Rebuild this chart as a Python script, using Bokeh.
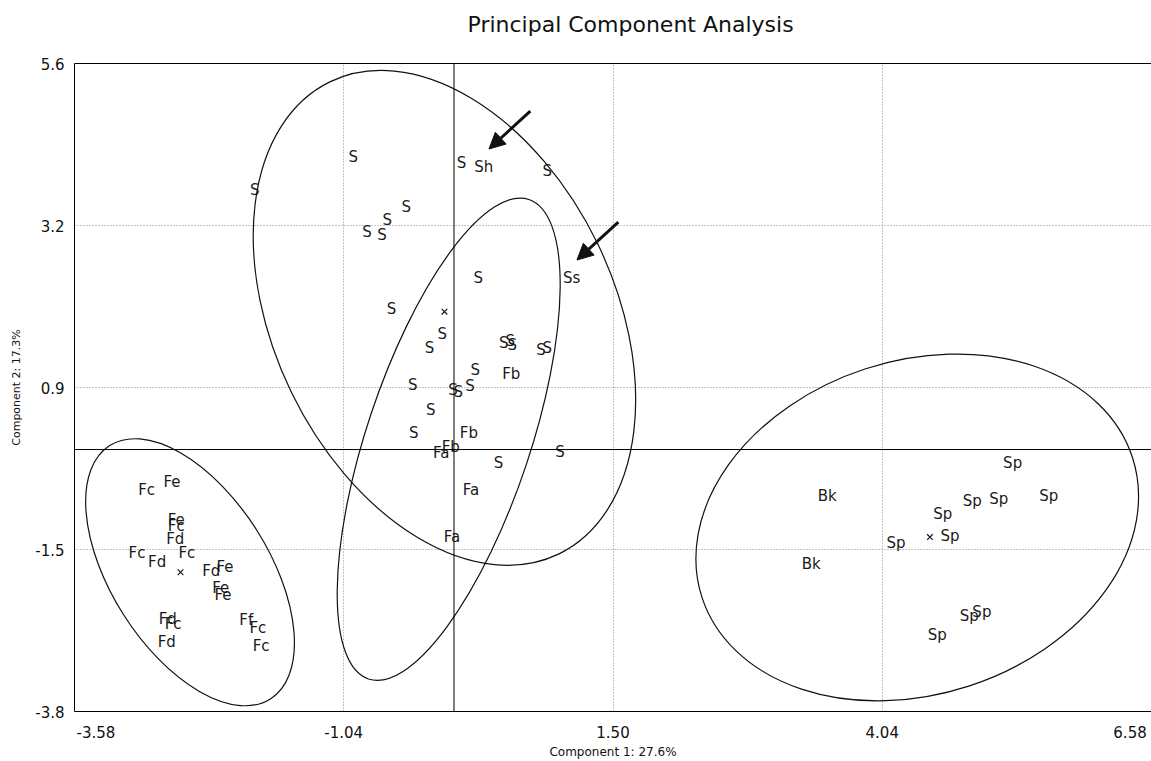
import math
from bokeh.plotting import figure
from bokeh.models import (Range1d, FixedTicker, Span, Arrow, NormalHead, ColumnDataSource,
                          LinearAxis)
from bokeh.core.properties import value
from bokeh.embed import file_html
from bokeh.resources import INLINE

# ---------------- data ----------------
title_text = "Principal Component Analysis"
x_title = "Component 1: 27.6%"
y_title = "Component 2: 17.3%"

x_ticks = [-3.58, -1.04, 1.50, 4.04, 6.58]
x_tick_labels = ["-3.58", "-1.04", "1.50", "4.04", "6.58"]
y_ticks = [-3.8, -1.45, 0.9, 3.25, 5.6]
y_tick_labels = ["-3.8", "-1.5", "0.9", "3.2", "5.6"]

left_labels = ["Fc", "Fe", "Fe", "Fc", "Fd", "Fc", "Fd", "Fc", "Fd", "Fe",
               "Fe", "Fe", "Fd", "Fc", "Fd", "Ff", "Fc", "Fc"]
left_pc1 = [-2.90, -2.66, -2.62, -2.62, -2.63, -2.99, -2.80, -2.52, -2.29, -2.16,
            -2.20, -2.18, -2.70, -2.65, -2.71, -1.96, -1.85, -1.82]
left_pc2 = [-0.59, -0.47, -1.02, -1.11, -1.30, -1.50, -1.63, -1.50, -1.76, -1.70,
            -2.01, -2.11, -2.46, -2.53, -2.79, -2.47, -2.59, -2.85]

mid_labels = ["S", "S", "S", "Sh", "S", "S", "S", "S", "S", "S", "Ss", "S", "S", "S",
              "S", "S", "S", "S", "S", "S", "Fb", "S", "S", "S", "S", "S", "S",
              "Fb", "Fb", "Fa", "S", "S", "Fa", "Fa"]
mid_pc1 = [-0.95, -1.88, 0.07, 0.28, 0.88, -0.45, -0.63, -0.82, -0.68, 0.23, 1.11, -0.59, -0.11,
           -0.23, 0.47, 0.53, 0.55, 0.82, 0.88, 0.20, 0.54, -0.39, -0.01, 0.04, 0.15, -0.22, -0.38,
           0.14, -0.03, -0.12, 1.00, 0.42, 0.16, -0.02]
mid_pc2 = [4.24, 3.76, 4.15, 4.10, 4.04, 3.52, 3.33, 3.16, 3.11, 2.49, 2.49, 2.04, 1.68,
           1.48, 1.54, 1.57, 1.52, 1.44, 1.48, 1.16, 1.10, 0.94, 0.87, 0.84, 0.92, 0.58, 0.24,
           0.24, 0.03, -0.05, -0.03, -0.20, -0.59, -1.27]

right_labels = ["Sp", "Bk", "Sp", "Sp", "Sp", "Sp", "Sp", "Sp", "Bk", "Sp", "Sp", "Sp"]
right_pc1 = [5.27, 3.52, 4.89, 5.14, 5.61, 4.61, 4.68, 4.17, 3.37, 4.98, 4.86, 4.56]
right_pc2 = [-0.20, -0.68, -0.75, -0.72, -0.68, -0.94, -1.26, -1.36, -1.66, -2.35, -2.41, -2.69]

centroid_pc1 = [-2.58, -0.09, 4.49]
centroid_pc2 = [-1.78, 2.00, -1.27]

ell_x = [-2.49, -0.09, -0.05, 4.37]
ell_y = [-1.78, 1.91, 0.15, -1.13]
ell_w = [2.83, 4.95, 4.77, 4.27]
ell_h = [2.29, 4.94, 2.37, 4.84]
ell_angle_deg = [-57.6, -64.1, 71.5, 18.0]

arrow_targets = ["Sh", "Ss"]

# ---------------- figure ----------------
FONT = "DejaVu Sans"
p = figure(width=1151, height=761, output_backend="svg", toolbar_location=None,
           x_range=Range1d(-3.58, 6.58), y_range=Range1d(-3.8, 5.6),
           min_border_left=74, min_border_right=0, min_border_top=63, min_border_bottom=48)
p.outline_line_color = None

xax = p.below[0]
yax = p.left[0]

# top border drawn by an unlabeled axis that also spaces the title upward
top_axis = LinearAxis(ticker=FixedTicker(ticks=[]), axis_label=" ",
                      axis_label_text_font_size="10px", axis_label_standoff=8,
                      major_label_standoff=0, major_tick_out=0, major_tick_in=0,
                      minor_tick_out=0, minor_tick_in=0, axis_line_color="black")
p.add_layout(top_axis, "above")

p.title.text = title_text
p.title.align = "left"
p.title.offset = 393
p.title.text_font = FONT
p.title.text_font_size = "22px"
p.title.text_font_style = "normal"
p.title.text_color = "#111111"
p.title.standoff = 10

for ax in (xax, yax):
    ax.major_tick_out = 0
    ax.major_tick_in = 0
    ax.minor_tick_out = 0
    ax.minor_tick_in = 0
    ax.axis_line_color = "black"
    ax.major_label_text_font = FONT
    ax.major_label_text_font_size = "15px"
    ax.major_label_text_color = "#111111"
    ax.axis_label_text_font = FONT
    ax.axis_label_text_font_style = "normal"
    ax.axis_label_text_color = "#111111"

# end labels are kept inside the frame edges (as in the original) by padding
NB = "\u00a0"
x_label_shown = list(x_tick_labels)
x_label_shown[0] = NB * 9 + x_label_shown[0]
x_label_shown[-1] = x_label_shown[-1] + NB

xax.ticker = FixedTicker(ticks=x_ticks)
xax.major_label_overrides = dict(zip(x_ticks, x_label_shown))
xax.axis_label = x_title
xax.axis_label_text_font_size = "12px"
xax.major_label_standoff = 12
xax.axis_label_standoff = 0

yax.ticker = FixedTicker(ticks=y_ticks)
yax.major_label_overrides = dict(zip(y_ticks, y_tick_labels))
yax.axis_label = y_title
yax.axis_label_text_font_size = "11px"
yax.major_label_standoff = 10
yax.axis_label_standoff = 9

p.xgrid.ticker = FixedTicker(ticks=x_ticks)
p.ygrid.ticker = FixedTicker(ticks=y_ticks)
for g in (p.xgrid[0], p.ygrid[0]):
    g.grid_line_color = "#8a8a8a"
    g.grid_line_dash = "1 2"

p.add_layout(Span(location=0, dimension="height", line_color="black", line_width=1))
p.add_layout(Span(location=0, dimension="width", line_color="black", line_width=1))

ell_src = ColumnDataSource(dict(x=ell_x, y=ell_y, w=ell_w, h=ell_h,
                                a=[math.radians(d) for d in ell_angle_deg]))
p.ellipse(x="x", y="y", width="w", height="h", angle="a", source=ell_src,
          fill_color=None, line_color="#111111", line_width=1.2)

text_kw = dict(text_align="center", text_baseline="middle", text_font=value(FONT),
               text_font_size="15px", text_color="#1a1a1a")
for labs, xs, ys in ((left_labels, left_pc1, left_pc2),
                     (mid_labels, mid_pc1, mid_pc2),
                     (right_labels, right_pc1, right_pc2)):
    src = ColumnDataSource(dict(x=xs, y=ys, t=labs))
    p.text(x="x", y="y", text="t", source=src, **text_kw)

p.scatter(centroid_pc1, centroid_pc2, marker="x", size=8, line_color="#1a1a1a", line_width=1.2)

head_off = (0.05, 0.26)
tail_vec = (0.39, 0.55)
for tgt in arrow_targets:
    i = mid_labels.index(tgt)
    hx, hy = mid_pc1[i] + head_off[0], mid_pc2[i] + head_off[1]
    p.add_layout(Arrow(end=NormalHead(size=16, fill_color="#111111", line_color="#111111"),
                       x_start=hx + tail_vec[0], y_start=hy + tail_vec[1],
                       x_end=hx, y_end=hy, line_width=3, line_color="#111111"))

open("out.html", "w").write(file_html(p, INLINE))
